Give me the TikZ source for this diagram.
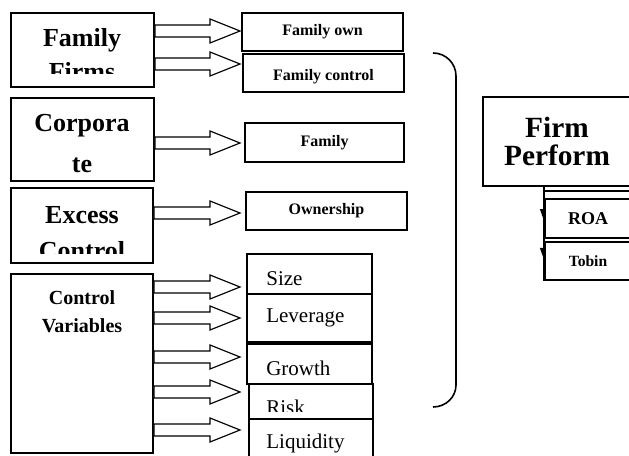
\documentclass[tikz,border=0pt]{standalone}
\usepackage{fontspec}
\setmainfont{Liberation Serif}
\usetikzlibrary{arrows.meta,positioning,calc}

\begin{document}
\begin{tikzpicture}[x=0.75pt,y=-0.75pt,
box/.style={draw,line width=1.4pt,fill=white,inner sep=0pt},
bigtxt/.style={font=\bfseries\fontsize{19.5}{25.5}\selectfont,align=center,inner sep=0pt},
var/.style={box,font=\bfseries\fontsize{12}{14}\selectfont,minimum width=120.75pt,minimum height=28.5pt},
ctl/.style={box,minimum width=93.75pt},
ctltxt/.style={anchor=west,font=\fontsize{15.75}{19}\selectfont,inner sep=0pt,xshift=15pt},
blk/.style={draw,line width=0.9pt,fill=white,
  to path={let \p1=(\tikztostart),\p2=(\tikztotarget) in
    (\x1,\y1+4.5pt) -- (\x2-22.5pt,\y1+4.5pt) -- (\x2-22.5pt,\y1+9pt) -- (\x2,\y1)
    -- (\x2-22.5pt,\y1-9pt) -- (\x2-22.5pt,\y1-4.5pt) -- (\x1,\y1-4.5pt) -- cycle}},
half/.style={line width=1pt,-{Triangle[length=9pt,width=6pt,right]}}]
\useasboundingbox (0,0) rectangle (629,456);
\clip (0,0) rectangle (629,456);

% left column
\node[box,minimum width=107.25pt,minimum height=55.5pt] (famfirms) at (82.5,50) {};
\begin{scope}
\clip (famfirms.north west) rectangle ([yshift=10.5pt]famfirms.south east);
\node[bigtxt] (famfirmst) at (82,55) {Family\\Firms};
\end{scope}
\node[box,minimum width=107.25pt,minimum height=62.25pt] (corp) at (82.5,139.5) {};
\node[bigtxt,font=\bfseries\fontsize{19.5}{30.75}\selectfont] (corpt) at (82,143.5) {Corpora\\te};
\node[box,minimum width=106.5pt,minimum height=56.25pt] (excess) at (82,225.5) {};
\begin{scope}
\clip (excess.north west) rectangle ([yshift=7.5pt]excess.south east);
\node[bigtxt,font=\bfseries\fontsize{19.5}{27}\selectfont] (excesst) at (82,233) {Excess\\Control};
\end{scope}
\node[box,minimum width=106.5pt,minimum height=134.25pt] (ctrlvar) at (82,363.5) {};
\node[bigtxt,font=\bfseries\fontsize{15}{21}\selectfont] (ctrlvart) at (82,312) {Control\\Variables};

% measures
\node[var] (famown) at (322.5,32) {Family own};
\node[var,text height=14pt,text depth=2.6pt] (famctrl) at (323.5,73) {Family control};
\node[var,minimum width=119.25pt,minimum height=29.25pt] (family) at (324.5,142.5) {Family};
\node[var] (owner) at (326.5,211) {Ownership};

% control variables
\node[ctl,minimum height=30pt] (size) at (309.5,274) {};
\node[ctltxt,yshift=-3.75pt] (sizet) at (size.west) {Size};
\node[ctl,minimum height=36pt] (lev) at (309.5,318) {};
\node[ctltxt] (levt) at (lev.west) {Leverage};
\node[ctl,minimum height=30pt] (growth) at (309.5,364) {};
\node[ctltxt,yshift=-3pt] (growtht) at (growth.west) {Growth};
\node[ctl,minimum width=93pt,minimum height=26.25pt] (risk) at (311,401.5) {};
\begin{scope}
\clip (risk.north west) rectangle ([yshift=6pt]risk.south east);
\node[ctltxt,xshift=-1.5pt,yshift=-4pt] (riskt) at (risk.west) {Risk};
\end{scope}
\node[ctl,minimum width=93pt,minimum height=30.75pt] (liq) at (311,439.5) {};
\node[ctltxt,xshift=-1.5pt,yshift=-3pt] (liqt) at (liq.west) {Liquidity};

% block arrows
\coordinate (a1) at (240,31);
\coordinate (a2) at (240,64);
\coordinate (a3) at (240,143);
\coordinate (a4) at (240,213);
\coordinate (a5) at (240,287);
\coordinate (a6) at (240,318);
\coordinate (a7) at (240,357);
\coordinate (a8) at (240,392);
\coordinate (a9) at (240,430);
\draw[blk] (famfirms.east |- a1) to (a1);
\draw[blk] (famfirms.east |- a2) to (a2);
\draw[blk] (corp.east |- a3) to (a3);
\draw[blk] (excess.east |- a4) to (a4);
\foreach \i in {5,...,9}
  \draw[blk] (ctrlvar.east |- a\i) to (a\i);

% bracket
\draw[line width=1.2pt] (433,53) to[out=0,in=90] (456,76) -- (456,385) to[out=-90,in=0] (433,407);

% performance
\node[box,font=\bfseries\fontsize{22}{21}\selectfont,align=center,minimum width=111pt,minimum height=66.75pt] (perf) at (557,141.5) {Firm\\Perform};
\node[box,font=\bfseries\fontsize{13.5}{16}\selectfont,minimum width=64.5pt,minimum height=29.25pt] (roa) at (588,218.5) {ROA};
\node[box,font=\bfseries\fontsize{11.7}{14}\selectfont,minimum width=64.5pt,minimum height=28.5pt] (tobin) at (588,261) {Tobin};
\draw[line width=1.2pt] (perf.south -| roa.west) -- (tobin.south west);
\draw[line width=1pt] ([yshift=5.25pt]roa.north west) -- ([yshift=5.25pt]roa.north east);
\draw[half] (perf.south -| roa.west) -- ([yshift=-3.4pt]roa.west);
\draw[half] (roa.south west) -- ([yshift=-0.75pt]tobin.west);
\end{tikzpicture}
\end{document}
